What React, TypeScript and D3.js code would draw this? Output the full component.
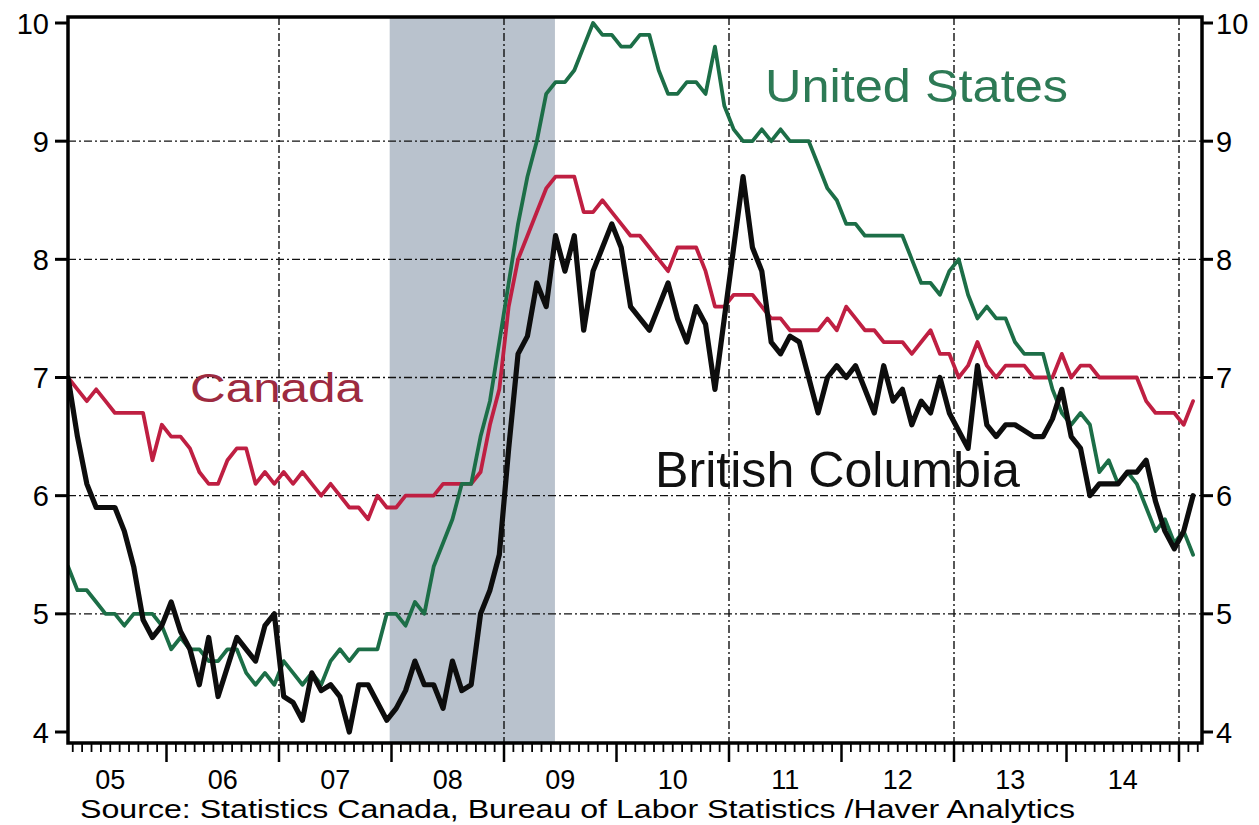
import React from "react";
import * as d3 from "d3";

// Monthly unemployment rates (%), Feb 2005 .. Feb 2015
const canada = [
  7.0, 6.9, 6.8, 6.9, 6.8, 6.7, 6.7, 6.7, 6.7, 6.3, 6.6, 6.5,
  6.5, 6.4, 6.2, 6.1, 6.1, 6.3, 6.4, 6.4, 6.1, 6.2, 6.1, 6.2,
  6.1, 6.2, 6.1, 6.0, 6.1, 6.0, 5.9, 5.9, 5.8, 6.0, 5.9, 5.9,
  6.0, 6.0, 6.0, 6.0, 6.1, 6.1, 6.1, 6.1, 6.2, 6.6, 6.9, 7.6,
  8.0, 8.2, 8.4, 8.6, 8.7, 8.7, 8.7, 8.4, 8.4, 8.5, 8.4, 8.3,
  8.2, 8.2, 8.1, 8.0, 7.9, 8.1, 8.1, 8.1, 7.9, 7.6, 7.6, 7.7,
  7.7, 7.7, 7.6, 7.5, 7.5, 7.4, 7.4, 7.4, 7.4, 7.5, 7.4, 7.6,
  7.5, 7.4, 7.4, 7.3, 7.3, 7.3, 7.2, 7.3, 7.4, 7.2, 7.2, 7.0,
  7.1, 7.3, 7.1, 7.0, 7.1, 7.1, 7.1, 7.0, 7.0, 7.0, 7.2, 7.0,
  7.1, 7.1, 7.0, 7.0, 7.0, 7.0, 7.0, 6.8, 6.7, 6.7, 6.7, 6.6,
  6.8,
];

const unitedStates = [
  5.4, 5.2, 5.2, 5.1, 5.0, 5.0, 4.9, 5.0, 5.0, 5.0, 4.9, 4.7,
  4.8, 4.7, 4.7, 4.6, 4.6, 4.7, 4.7, 4.5, 4.4, 4.5, 4.4, 4.6,
  4.5, 4.4, 4.5, 4.4, 4.6, 4.7, 4.6, 4.7, 4.7, 4.7, 5.0, 5.0,
  4.9, 5.1, 5.0, 5.4, 5.6, 5.8, 6.1, 6.1, 6.5, 6.8, 7.3, 7.8,
  8.3, 8.7, 9.0, 9.4, 9.5, 9.5, 9.6, 9.8, 10.0, 9.9, 9.9, 9.8,
  9.8, 9.9, 9.9, 9.6, 9.4, 9.4, 9.5, 9.5, 9.4, 9.8, 9.3, 9.1,
  9.0, 9.0, 9.1, 9.0, 9.1, 9.0, 9.0, 9.0, 8.8, 8.6, 8.5, 8.3,
  8.3, 8.2, 8.2, 8.2, 8.2, 8.2, 8.0, 7.8, 7.8, 7.7, 7.9, 8.0,
  7.7, 7.5, 7.6, 7.5, 7.5, 7.3, 7.2, 7.2, 7.2, 6.9, 6.7, 6.6,
  6.7, 6.6, 6.2, 6.3, 6.1, 6.2, 6.1, 5.9, 5.7, 5.8, 5.6, 5.7,
  5.5,
];

const britishColumbia = [
  7.0, 6.5, 6.1, 5.9, 5.9, 5.9, 5.7, 5.4, 4.95, 4.8, 4.9, 5.1,
  4.85, 4.7, 4.4, 4.8, 4.3, 4.55, 4.8, 4.7, 4.6, 4.9, 5.0, 4.3,
  4.25, 4.1, 4.5, 4.35, 4.4, 4.3, 4.0, 4.4, 4.4, 4.25, 4.1, 4.2,
  4.35, 4.6, 4.4, 4.4, 4.2, 4.6, 4.35, 4.4, 5.0, 5.2, 5.5, 6.4,
  7.2, 7.35, 7.8, 7.6, 8.2, 7.9, 8.2, 7.4, 7.9, 8.1, 8.3, 8.1,
  7.6, 7.5, 7.4, 7.6, 7.8, 7.5, 7.3, 7.6, 7.45, 6.9, 7.5, 8.1,
  8.7, 8.1, 7.9, 7.3, 7.2, 7.35, 7.3, 7.0, 6.7, 7.0, 7.1, 7.0,
  7.1, 6.9, 6.7, 7.1, 6.8, 6.9, 6.6, 6.8, 6.7, 7.0, 6.7, 6.55,
  6.4, 7.1, 6.6, 6.5, 6.6, 6.6, 6.55, 6.5, 6.5, 6.65, 6.9, 6.5,
  6.4, 6.0, 6.1, 6.1, 6.1, 6.2, 6.2, 6.3, 5.95, 5.7, 5.55, 5.7,
  6.0,
];

const firstMonth = "2005-02";
const recession = ["2007-12-26", "2009-06-14"];
const yTicks = [4, 5, 6, 7, 8, 9, 10];
const yGrid = [5, 6, 7, 8, 9];
const yearLabels = ["05", "06", "07", "08", "09", "10", "11", "12", "13", "14"];
const gridYears = [2007, 2009, 2011, 2013, 2015];
const sourceText = "Source:  Statistics Canada, Bureau of Labor Statistics /Haver Analytics";

const W = 1259;
const H = 825;
const L = 68, R = 1202, T = 17, B = 743;
const FONT = "'Liberation Sans', Arial, Helvetica, sans-serif";

// months since Jan 2005 (fractional)
function monthPos(s: string): number {
  const p = s.split("-").map(Number);
  const yr = p[0], mo = p[1], dy = p[2] ?? 15;
  const dim = new Date(yr, mo, 0).getDate();
  return (yr - 2005) * 12 + (mo - 1) + (dy - 1) / dim;
}

export default function App() {
  const x = d3.scaleLinear().domain([0, 120]).range([54, 1179]);
  const y = d3.scaleLinear().domain([4, 10]).range([732, 23]);
  const m0 = monthPos(firstMonth + "-01") + 0.5;

  const line = d3
    .line<number>()
    .x((_, i) => x(m0 + i))
    .y((d) => y(d))
    .curve(d3.curveLinear);

  const monthTicks = d3.range(0, 123).filter((m) => x(m) >= L && x(m) <= R);
  const gridDash = "8,3,2,3";

  return (
    <svg
      width={W}
      height={H}
      style={{ position: "absolute", left: 0, top: 0, background: "#fff" }}
      fontFamily={FONT}
    >
      <defs>
        <clipPath id="plot">
          <rect x={L} y={T} width={R - L} height={B - T} />
        </clipPath>
      </defs>
      <rect x={0} y={0} width={W} height={H} fill="#fff" />
      {/* recession shading */}
      <rect
        x={x(monthPos(recession[0]))}
        y={T}
        width={x(monthPos(recession[1])) - x(monthPos(recession[0]))}
        height={B - T}
        fill="#b9c2cd"
      />
      {/* grid */}
      <g stroke="#111" strokeWidth={1.4} strokeDasharray={gridDash} fill="none">
        {yGrid.map((v) => (
          <line key={"h" + v} x1={L} x2={R} y1={y(v)} y2={y(v)} />
        ))}
        {gridYears.map((yr) => (
          <line key={"v" + yr} x1={x((yr - 2005) * 12)} x2={x((yr - 2005) * 12)} y1={T} y2={B} />
        ))}
      </g>
      {/* series */}
      <g clipPath="url(#plot)" fill="none" strokeLinejoin="round" strokeLinecap="round">
        <path d={line(canada) || ""} stroke="#bf1f42" strokeWidth={3.8} />
        <path d={line(unitedStates) || ""} stroke="#1c6e47" strokeWidth={3.8} />
        <path d={line(britishColumbia) || ""} stroke="#0d0d0d" strokeWidth={5.2} />
      </g>
      {/* frame */}
      <rect x={L} y={T} width={R - L} height={B - T} fill="none" stroke="#000" strokeWidth={3.5} />
      {/* y ticks and labels */}
      <g stroke="#000" strokeWidth={3}>
        {yTicks.map((v) => (
          <g key={"yt" + v}>
            <line x1={55} x2={L} y1={y(v)} y2={y(v)} />
            <line x1={R} x2={1213} y1={y(v)} y2={y(v)} />
          </g>
        ))}
      </g>
      <g fontSize={29} fill="#000">
        {yTicks.map((v) => (
          <g key={"yl" + v}>
            <text x={49} y={y(v) + 10.5} textAnchor="end">{v}</text>
            <text x={1216} y={y(v) + 10.5} textAnchor="start">{v}</text>
          </g>
        ))}
      </g>
      {/* x ticks */}
      <g stroke="#000">
        {monthTicks.map((m) => (
          <line
            key={"xt" + m}
            x1={x(m)}
            x2={x(m)}
            y1={B}
            y2={m % 12 === 0 ? 762 : 752}
            strokeWidth={m % 12 === 0 ? 2.5 : 1.8}
          />
        ))}
      </g>
      <g fontSize={27} fill="#000" textAnchor="middle">
        {yearLabels.map((lab, k) => (
          <text key={lab} x={x(k * 12 + 6)} y={789}>{lab}</text>
        ))}
      </g>
      {/* series labels */}
      <text x={765} y={102} fontSize={47} fill="#2d7a55" textLength={303} lengthAdjust="spacingAndGlyphs">
        United States
      </text>
      <text x={190} y={402} fontSize={41} fill="#9d2a40" textLength={173} lengthAdjust="spacingAndGlyphs">
        Canada
      </text>
      <text x={655} y={487} fontSize={50} fill="#111" textLength={365} lengthAdjust="spacingAndGlyphs">
        British Columbia
      </text>
      {/* source */}
      <text x={80} y={818} fontSize={25} fill="#000" textLength={995} lengthAdjust="spacingAndGlyphs">
        {sourceText}
      </text>
    </svg>
  );
}
